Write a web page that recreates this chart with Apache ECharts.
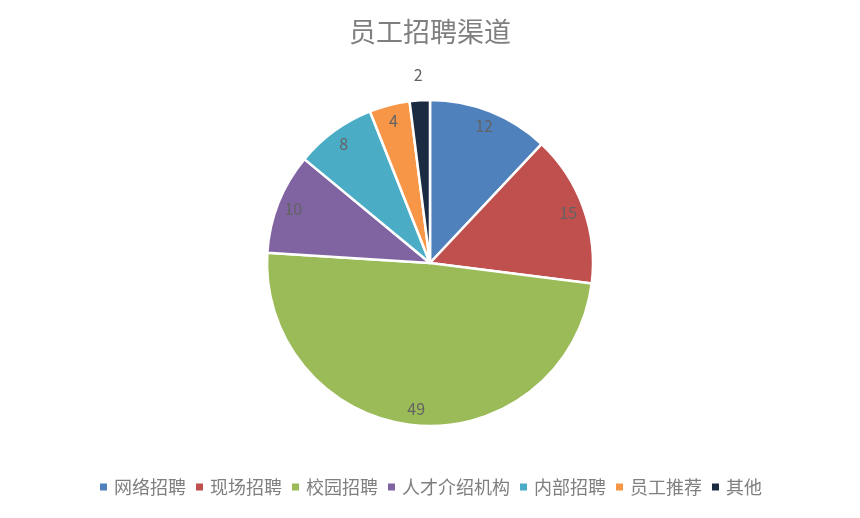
<!DOCTYPE html>
<html><head><meta charset="utf-8">
<script src="https://cdn.jsdelivr.net/npm/echarts@6/dist/echarts.min.js"></script>
<style>html,body{margin:0;padding:0;background:#fff}#c{width:860px;height:518px}</style>
</head><body><div id="c"></div>
<script>
const categories = ['网络招聘','现场招聘','校园招聘','人才介绍机构','内部招聘','员工推荐','其他'];
const values = [12, 15, 49, 10, 8, 4, 2];
const colors = ['#4F81BD','#C0504D','#9BBB59','#8064A2','#4BACC6','#F79646','#1B2B42'];
const outsideIdx = [6];

const chart = echarts.init(document.getElementById('c'));
const font = '"Noto Sans CJK SC", "Noto Sans", sans-serif';
const center = [430, 263];
const mainData = categories.map((n,i)=>({name:n, value:values[i], itemStyle:{color:colors[i]}}));
function overlay(showFn, r){
  return {
    type:'pie', center, radius:[0, r], silent:true, legendHoverLink:false,
    itemStyle:{color:'rgba(0,0,0,0)', borderWidth:0},
    label:{show:true, position:'inside', formatter:'{c}', color:'#636363', fontSize:16, fontFamily:font},
    emphasis:{disabled:true},
    data: categories.map((n,i)=>({name:n+'_o'+r, value:values[i], label:{show:showFn(i)}}))
  };
}
chart.setOption({
  animation:false,
  backgroundColor:'#fff',
  color: colors,
  title:{text:'员工招聘渠道', left:'center', top:13, textStyle:{fontSize:27, fontWeight:'normal', color:'#7f7f7f', fontFamily:font}},
  legend:{
    data: categories, bottom:17, left:'center', itemWidth:9, itemHeight:9, itemGap:8, icon:'rect',
    textStyle:{fontSize:18, color:'#7f7f7f', fontFamily:font, padding:[0,0,0,1]}
  },
  series:[
    {type:'pie', center, radius:[0,163], startAngle:90, clockwise:true,
     itemStyle:{borderColor:'#fff', borderWidth:2.5},
     label:{show:false}, labelLine:{show:false}, emphasis:{scale:false},
     data: mainData},
    overlay(i=>outsideIdx.indexOf(i)<0, 288),
    overlay(i=>outsideIdx.indexOf(i)>=0, 370)
  ]
});
</script></body></html>
